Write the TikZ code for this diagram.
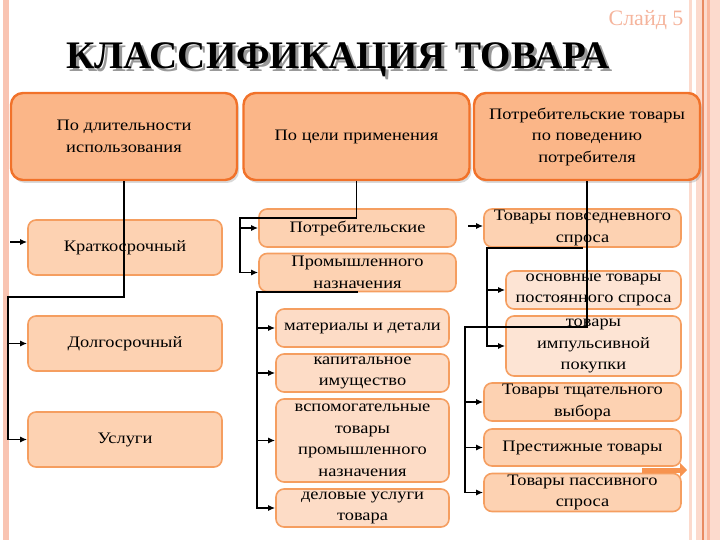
\documentclass[tikz,border=0pt]{standalone}
\usepackage{fontspec}
\setmainfont{Liberation Serif}
\newfontfamily\boxfont{Liberation Serif}[FakeStretch=1.15]
\usetikzlibrary{arrows.meta,shadows}
\definecolor{topfill}{RGB}{251,182,136}
\definecolor{topdraw}{RGB}{241,114,42}
\definecolor{itemfill}{RGB}{253,210,178}
\definecolor{itemdraw}{RGB}{245,158,96}
\definecolor{subfill}{RGB}{253,220,198}
\definecolor{lightfill}{RGB}{253,228,212}
\definecolor{slidenum}{RGB}{245,180,156}
\definecolor{framea}{RGB}{249,196,178}
\definecolor{frameb}{RGB}{252,218,205}
\definecolor{framec}{RGB}{233,138,98}
\definecolor{framed}{RGB}{250,183,158}
\definecolor{decor}{RGB}{247,147,79}
\tikzset{
  catbox/.style={rectangle,rounded corners=12pt,fill=topfill,draw=topdraw,
    line width=2.4pt,minimum width=226pt,minimum height=87pt,align=center,
    inner sep=2pt,font=\boxfont\fontsize{16}{21.5}\selectfont,
    drop shadow={opacity=0.3,shadow xshift=2pt,shadow yshift=-3pt}},
  itembox/.style={rectangle,rounded corners=8pt,fill=itemfill,draw=itemdraw,
    line width=1.6pt,minimum width=194pt,minimum height=38pt,align=center,
    inner sep=1pt,font=\boxfont\fontsize{16}{21.5}\selectfont},
  subbox/.style={itembox,fill=subfill,minimum width=173pt},
  lightbox/.style={itembox,fill=lightfill,minimum width=175pt},
  conn/.style={line width=1.8pt,black},
  arr/.style={conn,-{Latex[length=7pt,width=6pt]}},
  headline/.style={font=\bfseries\fontsize{39}{39}\selectfont}
}
\begin{document}
\begin{tikzpicture}[x=1pt,y=-1pt]
  \useasboundingbox (0,0) rectangle (720,540);
  % slide frame
  \fill[framea] (3,0) rectangle (9,540);
  \fill[frameb] (689,0) rectangle (692,540);
  \fill[frameb] (696,0) rectangle (702,540);
  \fill[framec] (702,0) rectangle (703.5,540);
  \fill[frameb] (703.5,0) rectangle (707,540);
  \fill[framed] (707,0) rectangle (710,540);
  \fill[frameb] (710,0) rectangle (720,540);

  \node[font=\fontsize{22}{22}\selectfont,text=slidenum,anchor=east] (slide) at (687,20) {Слайд 5};
  \node[headline,text=black!40] (titleshadow) at (341,63) {КЛАССИФИКАЦИЯ ТОВАРА};
  \node[headline] (title) at (338,60) {КЛАССИФИКАЦИЯ ТОВАРА};

  \node[catbox] (dlit) at (124,136.5) {По длительности\\использования};
  \node[catbox] (cel) at (356.5,136.5) {По цели применения};
  \node[catbox] (povd) at (587,136.5) {Потребительские товары\\по поведению\\потребителя};

  \node[itembox,minimum height=55pt] (krat) at (125,247.5) {Краткосрочный};
  \node[itembox,minimum height=55pt] (dolg) at (125,343.5) {Долгосрочный};
  \node[itembox,minimum height=55pt] (usl) at (125,439.5) {Услуги};

  \node[itembox,minimum width=197pt] (potr) at (357.5,228) {Потребительские};
  \node[itembox,minimum width=197pt] (prom) at (357.5,272.5) {Промышленного\\назначения};
  \node[subbox] (mat) at (362.5,328) {материалы и детали};
  \node[subbox] (kap) at (362.5,373) {капитальное\\имущество};
  \node[subbox,minimum height=83pt] (vsp) at (362.5,440.5) {вспомогательные\\товары\\промышленного\\назначения};
  \node[subbox] (delo) at (362.5,508) {деловые услуги\\товара};

  \node[itembox,minimum width=197pt] (povs) at (582.5,228) {Товары повседневного\\спроса};
  \node[lightbox] (osn) at (593.5,290) {основные товары\\постоянного спроса};
  \node[lightbox,minimum height=60pt] (imp) at (593.5,346) {товары\\импульсивной\\покупки};
  \node[itembox,minimum width=197pt] (tshch) at (582.5,402) {Товары тщательного\\выбора};
  \node[itembox,minimum width=197pt,minimum height=37pt] (prest) at (582.5,447.5) {Престижные товары};
  \node[itembox,minimum width=197pt] (pass) at (582.5,492.5) {Товары пассивного\\спроса};

  % by duration
  \coordinate (lbus) at (8,297);
  \coordinate (kin) at (10,242);
  \draw[arr] (dlit.south) |- (lbus) -- (lbus |- usl.west) -- (usl.west);
  \draw[arr] (lbus |- dolg.west) -- (dolg.west);
  \draw[arr] (kin) -- (kin -| krat.west);

  % by purpose
  \coordinate (mbus) at (240,218);
  \coordinate (pbus) at (257,293);
  \draw[arr] (cel.south) |- (mbus) -- (mbus |- prom.west) -- (prom.west);
  \draw[arr] (mbus |- potr.west) -- (potr.west);
  \draw[arr] (prom.south) -| (pbus |- delo.west) -- (delo.west);
  \draw[arr] (pbus |- mat.west) -- (mat.west);
  \draw[arr] (pbus |- kap.west) -- (kap.west);
  \draw[arr] (pbus |- vsp.west) -- (vsp.west);

  % by behaviour
  \coordinate (rbus) at (465,327);
  \coordinate (pin) at (468,226);
  \coordinate (sbus) at (487,248);
  \draw[arr] (povd.south) |- (rbus) -- (rbus |- pass.west) -- (pass.west);
  \draw[arr] (rbus |- tshch.west) -- (tshch.west);
  \draw[arr] (rbus |- prest.west) -- (prest.west);
  \draw[arr] (pin) -- (pin -| povs.west);
  \draw[arr] (povs.south) -| (sbus |- imp.west) -- (imp.west);
  \draw[arr] (sbus |- osn.west) -- (osn.west);

  \coordinate (dstart) at (642,470);
  \coordinate (dend) at (687,470);
  \draw[line width=5pt,decor,-{Triangle[length=7pt,width=14pt]}] (dstart) -- (dend);
\end{tikzpicture}
\end{document}
